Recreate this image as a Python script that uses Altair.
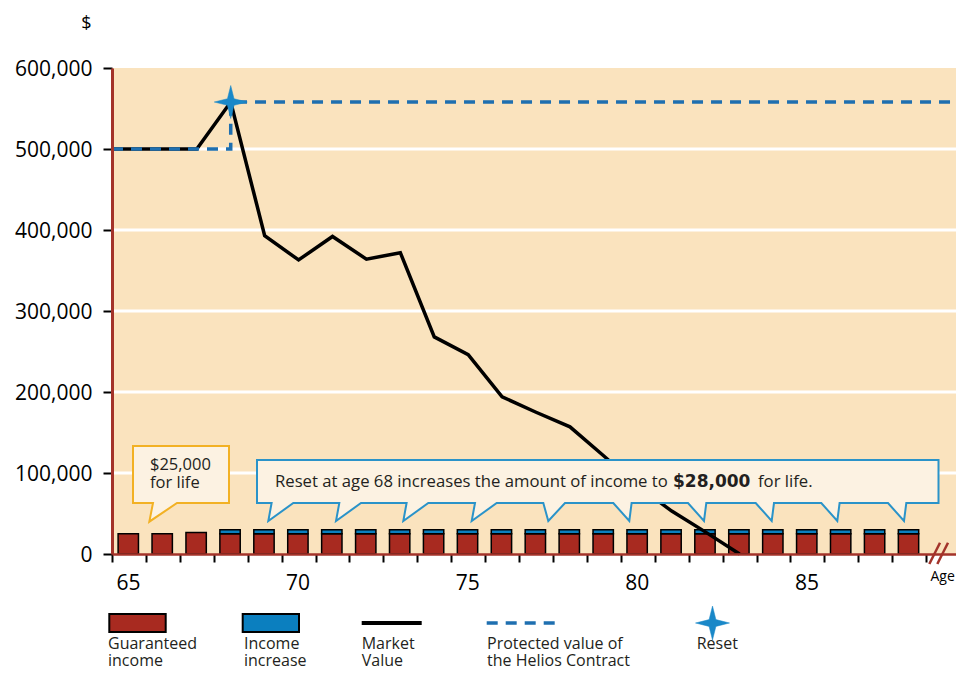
import altair as alt
import pandas as pd

# ---------------- data ----------------
ages = list(range(65, 89))
guaranteed = [25000, 25000, 26500] + [25000] * 21
increase = [0, 0, 0] + [5000] * 21

mv_age = [65, 67.5, 68.5, 69.5, 70.5, 71.5, 72.5, 73.5, 74.5, 75.5, 76.5,
          77.5, 78.5, 79.5, 80.5, 81.5, 82.5, 83.5]
mv_value = [500000, 500000, 558000, 393000, 363000, 392000, 364000, 372000,
            268000, 246000, 194000, 175000, 157000, 121000, 84000, 53000,
            27000, 0]

pv_age = [65, 68.5, 68.5, 89.88]
pv_value = [500000, 500000, 558000, 558000]

reset_age = [68.5]
reset_value = [558000]

x_ticks = list(range(65, 90))
y_ticks = [0, 100000, 200000, 300000, 400000, 500000, 600000]
grid_values = [100000, 200000, 300000, 400000, 500000]

legend_labels = [["Guaranteed", "income"], ["Income", "increase"],
                 ["Market", "Value"], ["Protected value of", "the Helios Contract"],
                 ["Reset"]]
callout_small = ["$25,000", "for life"]
callout_big = ["Reset at age 68 increases the amount of income to", "$28,000", "for life."]

# ---------------- styles ----------------
BG = "#FAE3BE"
RED = "#A82A20"
BLUE = "#0B7FBF"
DASH_BLUE = "#1E6FB0"
STAR_BLUE = "#1A88C8"
AXIS_RED = "#A3332A"
CREAM = "#FCF2E2"
YELLOW = "#F2B124"
CALL_BLUE = "#2A93C9"
TXT = "#231F20"
FONT = "Open Sans"

W, H = 844, 486

xs = alt.Scale(domain=[65, 89.88], nice=False, zero=False)
ys = alt.Scale(domain=[0, 600000], nice=False, zero=False)

STAR = "M0,-1L0.2,-0.2L1,0L0.2,0.2L0,1L-0.2,0.2L-1,0L-0.2,-0.2Z"


def callout_path(w, h, tails, tip_y):
    p = f"M0,0H{w}V{h}"
    for bl, tx, br in sorted(tails, key=lambda t: -t[1]):
        p += f"H{br}L{tx},{tip_y}L{bl},{h}"
    return p + "H0Z"


yellow_path = callout_path(96, 57, [(20, 16.3, 44)], 75.7)
blue_tails = [(14.6, 11.3, 36.3), (82.3, 79, 104), (149.6, 146.3, 171.3),
              (218, 214.7, 239.7), (286.3, 291.3, 308), (356.3, 372.3, 374.6),
              (431, 447, 449.3), (498.7, 514.7, 517), (564.3, 580.3, 582.6),
              (631, 647, 649.3)]
blue_path = callout_path(681.5, 43, blue_tails, 61)

bars = pd.DataFrame({"age": ages, "g": guaranteed, "inc": increase})
mv = pd.DataFrame({"age": mv_age, "v": mv_value, "i": range(len(mv_age))})
pv = pd.DataFrame({"age": pv_age, "v": pv_value, "i": range(len(pv_age))})
rs = pd.DataFrame({"age": reset_age, "v": reset_value})
gr = pd.DataFrame({"v": grid_values})
one = alt.Data(values=[{}])

x_axis = alt.Axis(values=x_ticks,
                  labelExpr="(datum.value % 5 == 0) ? format(datum.value, 'd') : ''",
                  labelOffset=16, labelFontSize=21, labelFont=FONT, labelColor="#000",
                  labelPadding=10, labelOverlap=False, labelFlush=False,
                  tickSize=8, tickWidth=2, tickColor="#000",
                  domainColor=AXIS_RED, domainWidth=2.5, grid=False, zindex=1,
                  title="Age", titleX=818, titleY=26, titleAlign="left",
                  titleBaseline="alphabetic", titleFont=FONT, titleFontSize=14,
                  titleFontWeight="normal", titleColor="#000")
y_axis = alt.Axis(values=y_ticks, labelExpr="format(datum.value, ',')",
                  labelFontSize=21, labelFont=FONT,
                  labelColor="#000", labelPadding=11, labelOffset=1,
                  tickSize=9, tickWidth=2, tickColor="#000",
                  domainColor=AXIS_RED, domainWidth=3, grid=False, zindex=1,
                  title="$", titleAngle=0, titleX=-26, titleY=-40, titleAlign="center",
                  titleBaseline="alphabetic", titleFont=FONT, titleFontSize=18,
                  titleFontWeight="normal", titleColor="#000")


def X(f):
    return alt.X(f, scale=xs, axis=x_axis)


def Y(f):
    return alt.Y(f, scale=ys, axis=y_axis)


grid = alt.Chart(gr).mark_rule(color="white", strokeWidth=3).encode(y=Y("v:Q"))

red_bars = alt.Chart(bars).transform_calculate(
    x0="datum.age + 0.18", x1="datum.age + 0.78"
).mark_rect(fill=RED, stroke="#000", strokeWidth=1.5).encode(
    x=X("x0:Q"), x2="x1:Q", y=Y("g:Q"), y2=alt.datum(0))

blue_bars = alt.Chart(bars).transform_filter("datum.inc > 0").transform_calculate(
    x0="datum.age + 0.18", x1="datum.age + 0.78", top="datum.g + datum.inc"
).mark_rect(fill=BLUE, stroke="#000", strokeWidth=1.5).encode(
    x=X("x0:Q"), x2="x1:Q", y=Y("g:Q"), y2="top:Q")

mv_line = alt.Chart(mv).mark_line(color="#000", strokeWidth=3.5).encode(
    x=X("age:Q"), y=Y("v:Q"), order="i:Q")

pv_line = alt.Chart(pv).mark_line(color=DASH_BLUE, strokeWidth=3.5, strokeDash=[11, 8]).encode(
    x=X("age:Q"), y=Y("v:Q"), order="i:Q")

star = alt.Chart(rs).mark_point(shape=STAR, filled=True, fill=STAR_BLUE, stroke=STAR_BLUE,
                                strokeWidth=0.5, size=1089, opacity=1).encode(
    x=X("age:Q"), y=Y("v:Q"))

# callouts
c_yellow = alt.Chart(one).mark_point(shape=yellow_path, filled=True, fill=CREAM, stroke=YELLOW,
                                     strokeWidth=2, size=4, opacity=1).encode(
    x=alt.value(21), y=alt.value(378))
c_blue = alt.Chart(one).mark_point(shape=blue_path, filled=True, fill=CREAM, stroke=CALL_BLUE,
                                   strokeWidth=2, size=4, opacity=1).encode(
    x=alt.value(145), y=alt.value(392))

t_small = alt.Chart(one).mark_text(text=callout_small, align="left", baseline="alphabetic",
                                   font=FONT, fontSize=16.5, lineHeight=17.5, color=TXT).encode(
    x=alt.value(38), y=alt.value(402))
t_big1 = alt.Chart(one).mark_text(text=callout_big[0], align="left", baseline="alphabetic",
                                  font=FONT, fontSize=16.7, color=TXT).encode(
    x=alt.value(163), y=alt.value(418.5))
t_big2 = alt.Chart(one).mark_text(text=callout_big[1], align="left", baseline="alphabetic",
                                  font="DejaVu Sans", fontWeight="bold", fontSize=17, color=TXT).encode(
    x=alt.value(561), y=alt.value(418.5))
t_big3 = alt.Chart(one).mark_text(text=callout_big[2], align="left", baseline="alphabetic",
                                  font=FONT, fontSize=16.7, color=TXT).encode(
    x=alt.value(646), y=alt.value(418.5))

# break marks on x axis
brk = [alt.Chart(one).mark_rule(color=AXIS_RED, strokeWidth=2.5).encode(
    x=alt.value(x0), x2=alt.value(x0 + 10.7), y=alt.value(496), y2=alt.value(474.7))
    for x0 in (817.3, 825.3)]

# legend
LY = 555
lg_red = alt.Chart(one).mark_rect(fill=RED, stroke="#000", strokeWidth=2).encode(
    x=alt.value(-2.7), x2=alt.value(53.7), y=alt.value(LY - 9), y2=alt.value(LY + 9))
lg_blue = alt.Chart(one).mark_rect(fill=BLUE, stroke="#000", strokeWidth=2).encode(
    x=alt.value(130.7), x2=alt.value(187), y=alt.value(LY - 9), y2=alt.value(LY + 9))
lg_mv = alt.Chart(one).mark_rule(color="#000", strokeWidth=4).encode(
    x=alt.value(249.7), x2=alt.value(309.7), y=alt.value(LY))
lg_pv = alt.Chart(one).mark_rule(color=DASH_BLUE, strokeWidth=3.5, strokeDash=[11, 8]).encode(
    x=alt.value(374.7), x2=alt.value(443), y=alt.value(LY))
lg_star = alt.Chart(one).mark_point(shape=STAR, filled=True, fill=STAR_BLUE, stroke=STAR_BLUE,
                                    strokeWidth=0.5, size=1156, opacity=1).encode(
    x=alt.value(600.5), y=alt.value(LY))
lg_x = [-4, 132, 249.7, 375, 584.7]
lg_text = [alt.Chart(one).mark_text(text=lab, align="left", baseline="alphabetic", font=FONT,
                                    fontSize=16, lineHeight=17.5, color=TXT).encode(
    x=alt.value(px), y=alt.value(580.5)) for lab, px in zip(legend_labels, lg_x)]

chart = alt.layer(
    red_bars, grid, blue_bars, mv_line, pv_line, star,
    c_yellow, c_blue, t_small, t_big1, t_big2, t_big3,
    *brk, lg_red, lg_blue, lg_mv, lg_pv, lg_star, *lg_text
).properties(
    width=W, height=H,
    autosize=alt.AutoSizeParams(type="none"),
    padding={"left": 104, "top": 60, "right": 0, "bottom": 117},
).configure_view(fill=BG, strokeWidth=0)

chart.save("out.html", embed_options={"renderer": "svg", "actions": False})
